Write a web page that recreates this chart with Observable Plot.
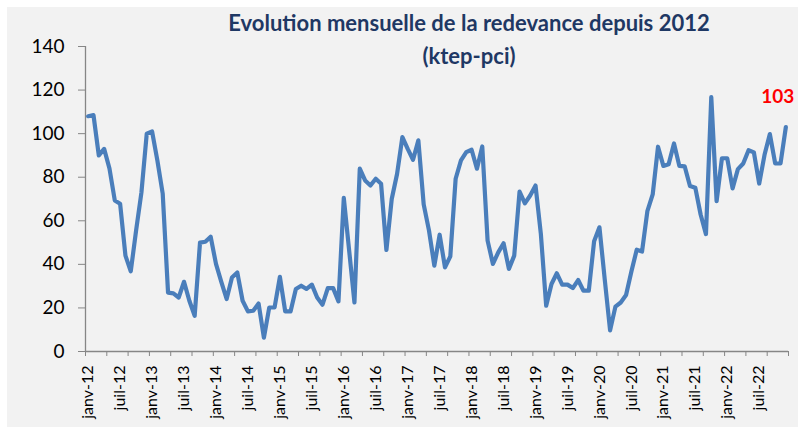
<!DOCTYPE html>
<html><head><meta charset="utf-8">
<script src="https://cdn.jsdelivr.net/npm/d3@7"></script>
<script src="https://cdn.jsdelivr.net/npm/@observablehq/plot@0.6"></script>
<style>
body{margin:0;background:#fff;}
#wrap{position:relative;width:803px;height:427px;overflow:hidden;}
#bg{position:absolute;left:7px;top:7px;width:791px;height:420px;background:#f2f2f2;}
#title{position:absolute;left:469px;top:6px;transform:translateX(-50%);white-space:nowrap;text-align:center;
  font-family:Lato,"Open Sans",sans-serif;font-weight:bold;font-size:22px;line-height:33px;color:#1f3864;}
#chart{position:absolute;left:0;top:0;}
</style></head>
<body>
<div id="wrap">
  <div id="bg"></div>
  <div id="chart"></div>
  <div id="title">Evolution mensuelle de la redevance depuis 2012<br>(ktep-pci)</div>
</div>
<script>
// Monthly values, janv-12 .. déc-22 (ktep-pci)
const values = [
108, 108.5, 90, 93, 84, 69.3, 67.8, 44, 36.8, 55.5,
73, 100, 101, 87.6, 72.4, 27, 26.7, 24.8, 32, 23.3,
16.4, 50, 50.4, 52.7, 40.2, 32, 24.1, 34, 36.3, 23.3,
18.4, 18.7, 22, 6.4, 20.2, 20.2, 34.3, 18.4, 18.4, 28.7,
30.2, 28.7, 30.7, 24.8, 21.5, 29.1, 29.1, 23, 70.5, 46.5,
22.5, 83.9, 78.5, 76.2, 79.3, 77, 46.6, 70, 81.5, 98.4,
93, 88, 96.9, 67.5, 55.5, 39.4, 53.6, 38.6, 43.7, 79.3,
87.7, 91.5, 92.6, 83.9, 94.1, 50.9, 40.2, 45.5, 49.7, 37.9,
44, 73.4, 68, 71.6, 76.2, 54, 21, 31, 35.9, 30.7,
30.7, 29.1, 32.8, 27.9, 27.9, 50.6, 57, 33, 9.7, 20.6,
22.5, 25.9, 36.7, 46.7, 45.9, 64.4, 72.1, 94, 85.2, 86,
95.5, 85.2, 85, 76, 75.2, 62.9, 53.9, 116.8, 69, 88.7,
88.7, 74.9, 83.7, 86.3, 92.4, 91.4, 77.1, 90.3, 99.8, 86.3,
86.3, 103
];
// x tick labels, one every 6 months
const xLabels = ["janv-12","juil-12","janv-13","juil-13","janv-14","juil-14","janv-15","juil-15",
  "janv-16","juil-16","janv-17","juil-17","janv-18","juil-18","janv-19","juil-19",
  "janv-20","juil-20","janv-21","juil-21","janv-22","juil-22"];
const yTicks = [0, 20, 40, 60, 80, 100, 120, 140];
const lastLabel = ["103"];

const data = values.map((v, i) => ({i, v}));
const n = values.length;
const labelPos = xLabels.map((_, k) => k * 6);
const tickPos = d3.range(-0.5, n, 4);

const axisColor = "#868686";
const font = "Lato, 'Open Sans', sans-serif";

const chart = Plot.plot({
  width: 803, height: 427,
  marginLeft: 85, marginRight: 15, marginTop: 46, marginBottom: 76,
  style: {background: "transparent", fontFamily: font, color: "#000"},
  x: {type: "linear", domain: [-0.5, n - 0.5], axis: null},
  y: {domain: [0, 140], axis: null},
  marks: [
    Plot.ruleX([-0.5], {y1: 0, y2: 140, stroke: axisColor, strokeWidth: 1.3}),
    Plot.ruleY([0], {x1: -0.5, x2: n - 0.5, stroke: axisColor, strokeWidth: 1.3}),
    Plot.axisY({ticks: yTicks, tickSize: 7, tickPadding: 14, stroke: axisColor, fontSize: 19, fill: "#000", label: null}),
    Plot.axisX({ticks: tickPos, tickSize: 5, tickFormat: () => "", stroke: axisColor, label: null}),
    Plot.axisX({ticks: labelPos, tickSize: 0, tickPadding: 14, tickRotate: -90, label: null,
      tickFormat: d => xLabels[Math.round(d / 6)], fontSize: 16, fill: "#000"}),
    Plot.line(data, {x: "i", y: "v", stroke: "#4a7ebb", strokeWidth: 4.2, strokeLinejoin: "round", strokeLinecap: "round"}),
    Plot.text([{i: n - 1, v: values[n - 1], t: lastLabel[0]}], {x: "i", y: "v", text: "t", dx: -8, dy: -30,
      fill: "#ff0000", fontWeight: "bold", fontSize: 19, fontFamily: font})
  ]
});
document.getElementById("chart").appendChild(chart);
</script>
</body></html>
